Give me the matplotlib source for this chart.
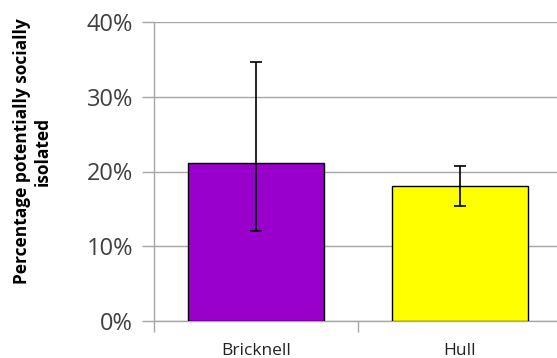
import numpy as np
import matplotlib
matplotlib.use('Agg')
import matplotlib.pyplot as plt
from matplotlib.ticker import FuncFormatter

areas = ['Bricknell', 'Hull']
values = [21.2, 18.0]
err_low = [12.0, 15.4]
err_high = [34.7, 20.7]
bar_colors = ['#9900cc', '#ffff00']
yticks = [0, 10, 20, 30, 40]

plt.rcParams['font.family'] = ['Open Sans', 'DejaVu Sans']

fig = plt.figure(figsize=(5.57, 3.58), dpi=100)
# plot area runs past the right edge of the picture, like the original
ax = fig.add_axes([154/557, 37/358, 408/557, 299/358])

x = np.arange(len(areas))
vals = np.array(values)
yerr = np.array([vals - np.array(err_low), np.array(err_high) - vals])

ax.bar(x, vals, width=0.67, color=bar_colors, edgecolor='black', linewidth=1, zorder=3)
ax.errorbar(x, vals, yerr=yerr, fmt='none', ecolor='black', elinewidth=1.2,
            capsize=4.5, capthick=1.2, zorder=4)

ax.set_xlim(-0.5, 1.5)
ax.set_ylim(0, 40)
ax.set_yticks(yticks)
ax.yaxis.set_major_formatter(FuncFormatter(lambda v, p: '%d%%' % v))
ax.yaxis.grid(True, color='#a6a6a6', linewidth=1, zorder=0)

ax.set_xticks(x)
ax.set_xticklabels(areas)
ax.set_xticks([-0.5, 0.5, 1.5], minor=True)
ax.tick_params(axis='x', which='major', length=0, pad=16, labelsize=12.5, labelcolor='#222222')
ax.tick_params(axis='x', which='minor', length=8, color='#a6a6a6', width=1)
ax.tick_params(axis='y', length=9, color='#a6a6a6', width=1, pad=6, labelsize=17,
               labelcolor='#404040')

for s in ['top', 'right']:
    ax.spines[s].set_visible(False)
for s in ['left', 'bottom']:
    ax.spines[s].set_color('#a6a6a6')
    ax.spines[s].set_linewidth(1)

fig.text(0.058, 0.578, 'Percentage potentially socially\nisolated', rotation=90,
         ha='center', va='center', fontsize=12.5, fontweight='bold', linespacing=1.15)

fig.savefig('out.png', dpi=100)
